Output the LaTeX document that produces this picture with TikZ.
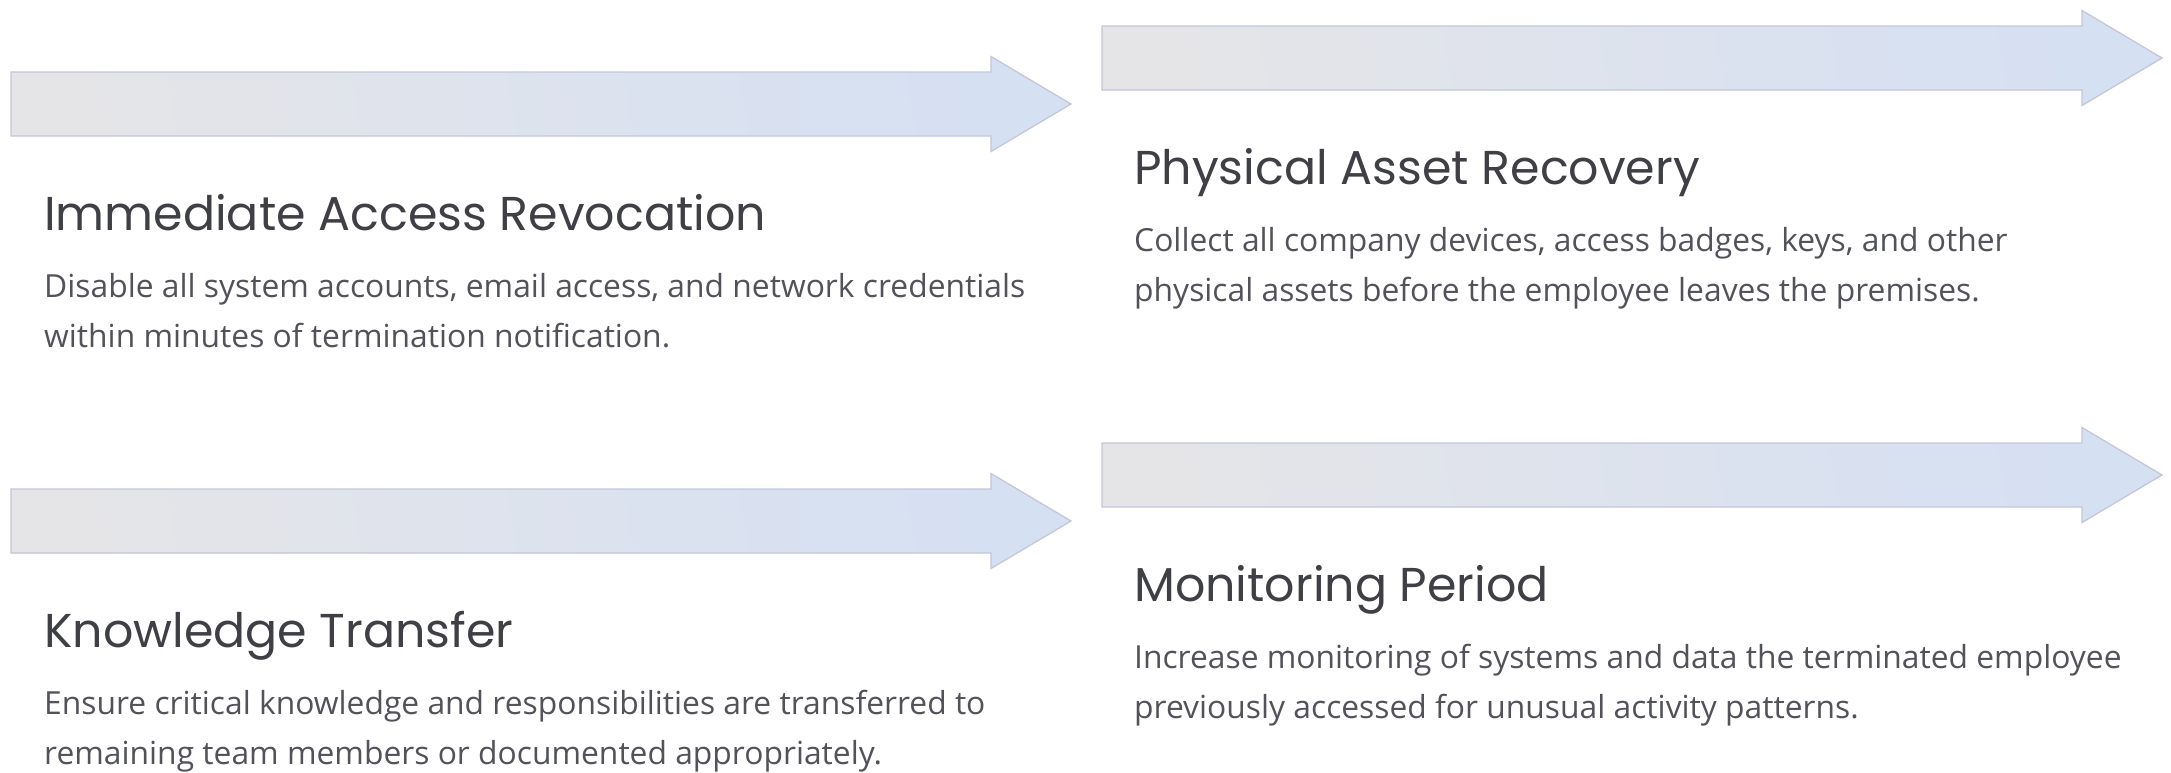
\documentclass[tikz,border=0pt]{standalone}
\usepackage{fontspec}
\setmainfont{Open Sans}
\newfontfamily\headfont{Poppins}
\usetikzlibrary{calc}

\definecolor{headink}{HTML}{3F3F46}
\definecolor{bodyink}{HTML}{52525B}
\definecolor{bandA}{HTML}{E5E5E8}
\definecolor{bandB}{HTML}{D9D9F0}
\definecolor{bandC}{HTML}{D5E0F3}
\definecolor{bandline}{HTML}{C4C6DA}

\tikzset{
  x=1pt, y=-1pt,
  bandarrow/.style={draw=bandline, line width=1.3pt, line join=miter,
    left color=bandA, middle color=bandB, right color=bandC, shading angle=100},
  steptitle/.style={anchor=base west, inner sep=0pt, text=headink,
    font=\headfont\fontsize{47.5}{56}\selectfont},
  % anchor base of a two-line block sits on its last line
  stepbody/.style={anchor=base west, inner sep=0pt, text=bodyink, align=left,
    font=\fontsize{31.8}{50.5}\selectfont},
  pics/phasearrow/.style={code={
    % body 980 long and 64 tall, head 80 long and 95 tall
    \path[bandarrow] (0,-32) -- (980,-32) -- (980,-47.5) -- (1060,0)
      -- (980,47.5) -- (980,32) -- (0,32) -- cycle;
  }}
}

\begin{document}
\begin{tikzpicture}
\useasboundingbox (0,0) rectangle (2171,772);

% arrows of the four phases
\pic at (11,104)   {phasearrow};
\pic at (1102,58)  {phasearrow};
\pic at (11,521)   {phasearrow};
\pic at (1102,475) {phasearrow};

% phase 1
\node[steptitle] (t1) at (44,230) {Immediate Access Revocation};
\node[stepbody]  (b1) at (44,347.5) {Disable all system accounts, email access, and network credentials\\within minutes of termination notification.};

% phase 2
\node[steptitle] (t2) at (1134,184) {Physical Asset Recovery};
\node[stepbody]  (b2) at (1134,301.5) {Collect all company devices, access badges, keys, and other\\physical assets before the employee leaves the premises.};

% phase 3
\node[steptitle] (t3) at (44,647) {Knowledge Transfer};
\node[stepbody]  (b3) at (44,764.5) {Ensure critical knowledge and responsibilities are transferred to\\remaining team members or documented appropriately.};

% phase 4
\node[steptitle] (t4) at (1134,601) {Monitoring Period};
\node[stepbody]  (b4) at (1134,718.5) {Increase monitoring of systems and data the terminated employee\\previously accessed for unusual activity patterns.};
\end{tikzpicture}
\end{document}
